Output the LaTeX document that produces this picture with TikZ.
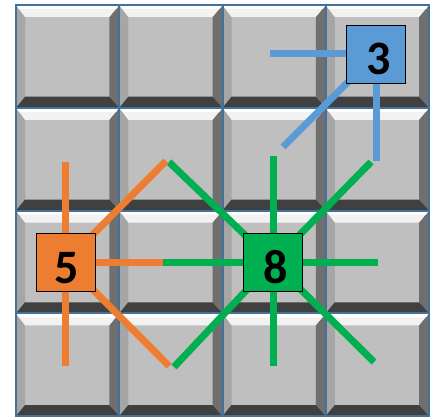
\documentclass[tikz,border=0pt]{standalone}
\usepackage{fontspec}
\setmainfont{Carlito}
\definecolor{gridblue}{HTML}{41719C}
\definecolor{tilemid}{HTML}{BFBFBF}
\definecolor{tiletop}{HTML}{F2F2F2}
\definecolor{tileleft}{HTML}{A6A6A6}
\definecolor{tileright}{HTML}{6F6F6F}
\definecolor{tilebottom}{HTML}{404040}
\definecolor{cblue}{HTML}{5B9BD5}
\definecolor{corange}{HTML}{ED7D31}
\definecolor{cgreen}{HTML}{00B050}
\pgfdeclarelayer{tiles}
\pgfdeclarelayer{lines}
\pgfsetlayers{tiles,lines,main}
\tikzset{
  numbox/.style={draw=black, line width=0.8pt, minimum width=59pt, minimum height=58pt,
    inner sep=0pt, text height=42pt, text depth=0pt,
    font=\bfseries\fontsize{48}{48}\selectfont},
  ray/.style={line width=7pt, line cap=butt},
}
\begin{document}
\begin{tikzpicture}[x=1pt,y=-1pt]
\useasboundingbox (0,0) rectangle (433,417);
\begin{pgfonlayer}{tiles}
\fill[white] (0,0) rectangle (433,417);
\foreach \i in {0,1,2,3}{
  \foreach \j in {0,1,2,3}{
    \pgfmathsetmacro{\xa}{16+103.25*\i}
    \pgfmathsetmacro{\ya}{5+102.75*\j}
    \pgfmathsetmacro{\xb}{\xa+103.25}
    \pgfmathsetmacro{\yb}{\ya+102.75}
    \fill[tilemid] (\xa,\ya) rectangle (\xb,\yb);
    \fill[tileleft] (\xa,\ya) -- (\xa+9,\ya+12) -- (\xa+9,\yb-11) -- (\xa,\yb) -- cycle;
    \fill[tileright] (\xb,\ya) -- (\xb,\yb) -- (\xb-10,\yb-11) -- (\xb-10,\ya+12) -- cycle;
    \fill[tiletop] (\xa,\ya) -- (\xb,\ya) -- (\xb-10,\ya+12) -- (\xa+9,\ya+12) -- cycle;
    \fill[white] (\xa,\ya) -- (\xb,\ya) -- (\xb-3,\ya+4) -- (\xa+3,\ya+4) -- cycle;
    \fill[tilebottom] (\xa,\yb) -- (\xb,\yb) -- (\xb-10,\yb-11) -- (\xa+9,\yb-11) -- cycle;
  }
}
\draw[gridblue, line width=2pt] (16,5) rectangle (429,416);
\foreach \i in {1,2,3}{
  \draw[gridblue, line width=2pt] (16+103.25*\i,5) -- (16+103.25*\i,416);
  \draw[gridblue, line width=2pt] (16,5+102.75*\i) -- (429,5+102.75*\i);
}
\end{pgfonlayer}

\node[numbox, fill=cblue] (b3) at (376,54) {\hspace*{5pt}3};
\node[numbox, fill=corange] (b5) at (65.5,262) {\hspace*{3pt}5};
\node[numbox, fill=cgreen] (b8) at (273,262) {\hspace*{5pt}8};

\coordinate (t3l) at (270,54);
\coordinate (t3d) at (376,161);
\coordinate (t3dl) at (283,147);

\coordinate (t5u) at (65.5,162);
\coordinate (t5d) at (65.5,366);
\coordinate (t5r) at (163,262);
\coordinate (t5ur) at (166,161);
\coordinate (t5dr) at (169,366);

\coordinate (t8u) at (273,156);
\coordinate (t8d) at (273,366);
\coordinate (t8l) at (163,262);
\coordinate (t8r) at (378,262);
\coordinate (t8ul) at (169,162);
\coordinate (t8ur) at (371,162);
\coordinate (t8dl) at (174,367);
\coordinate (t8dr) at (374,362);

\begin{pgfonlayer}{lines}
\foreach \e in {t3l,t3d,t3dl} \draw[ray, cblue] (b3.center) -- (\e);
\foreach \e in {t8u,t8d,t8l,t8r,t8ul,t8ur,t8dl,t8dr} \draw[ray, cgreen] (b8.center) -- (\e);
\foreach \e in {t5u,t5d,t5r,t5ur,t5dr} \draw[ray, corange] (b5.center) -- (\e);
\end{pgfonlayer}
\end{tikzpicture}
\end{document}
